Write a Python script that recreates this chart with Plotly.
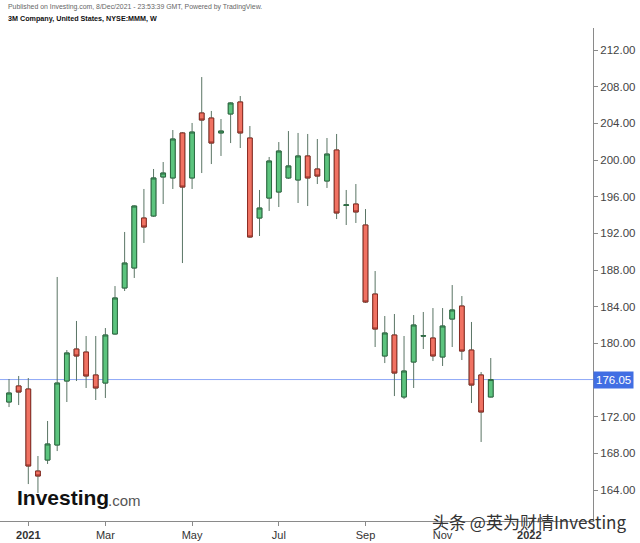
import plotly.graph_objects as go
import pandas as pd

# Weekly candles (Monday dates)
dates = pd.date_range("2020-12-21", periods=51, freq="7D").strftime("%Y-%m-%d").tolist()

opens = [173.60, 175.35, 175.02, 166.07, 167.27, 168.91, 175.89, 179.38, 179.05, 176.55,
         175.67, 181.02, 186.04, 188.22, 193.67, 193.89, 198.15, 198.04, 202.95, 198.04,
         205.13, 204.58, 202.95, 205.02, 206.33, 202.40, 193.67, 195.85, 196.51, 198.04,
         197.82, 200.44, 199.02, 197.71, 201.09, 195.05, 195.20, 192.91, 185.38, 178.62,
         180.91, 174.15, 177.96, 180.80, 180.58, 178.51, 182.65, 184.07, 179.27, 176.55,
         174.15]
highs = [176.11, 176.44, 176.22, 167.71, 171.53, 187.24, 179.27, 182.44, 180.80, 180.80,
         181.67, 186.25, 192.15, 195.05, 196.84, 199.02, 199.78, 203.27, 203.05, 204.04,
         209.05, 205.35, 204.47, 206.30, 206.98, 203.71, 196.73, 200.33, 201.96, 203.16,
         202.95, 202.84, 202.29, 202.40, 202.84, 196.73, 197.38, 194.65, 187.89, 182.98,
         183.20, 180.80, 183.09, 183.42, 183.85, 183.85, 186.36, 185.16, 182.33, 176.87,
         178.40]
lows = [173.05, 173.27, 164.65, 163.67, 166.84, 168.25, 173.60, 175.89, 175.13, 173.82,
        174.04, 180.95, 185.71, 187.13, 190.95, 193.80, 195.20, 196.84, 188.76, 196.84,
        198.58, 199.56, 200.44, 201.85, 201.31, 191.50, 191.71, 194.44, 194.87, 197.93,
        195.31, 194.98, 197.38, 196.95, 193.56, 192.91, 193.13, 184.40, 179.60, 177.85,
        174.25, 173.93, 175.13, 179.38, 178.07, 177.53, 179.60, 178.18, 173.49, 169.24,
        174.10]
closes = [174.58, 174.69, 166.62, 165.53, 169.02, 175.67, 178.95, 178.62, 176.44, 175.13,
          180.91, 184.95, 188.76, 194.98, 192.69, 198.04, 198.58, 202.29, 197.05, 203.05,
          204.36, 201.85, 203.16, 206.22, 202.95, 191.60, 194.76, 199.89, 200.98, 199.35,
          200.44, 198.04, 198.25, 200.65, 194.22, 195.10, 194.33, 184.51, 181.56, 181.13,
          176.76, 176.98, 182.00, 180.82, 178.62, 181.89, 183.64, 179.16, 175.45, 172.51,
          176.05]

tick_dates = ["2021-01-04", "2021-03-01", "2021-05-03", "2021-07-05", "2021-09-06",
              "2021-11-01", "2022-01-03"]
tick_text = ["<b>2021</b>", "Mar", "May", "Jul", "Sep", "Nov", "<b>2022</b>"]
price_ticks = [164, 168, 172, 180, 184, 188, 192, 196, 200, 204, 208, 212]

GREEN_FILL = "#5cc47e"
GREEN_LINE = "#2d6b42"
RED_FILL = "#f07262"
RED_LINE = "#8c2c24"
WICK = "#5a7565"

body_hi = [max(o, c) for o, c in zip(opens, closes)]
body_lo = [min(o, c) for o, c in zip(opens, closes)]

fig = go.Figure()
fig.add_trace(go.Candlestick(
    x=dates, open=opens, high=highs, low=lows, close=closes,
    increasing=dict(fillcolor=GREEN_FILL, line=dict(color=WICK, width=1)),
    decreasing=dict(fillcolor=RED_FILL, line=dict(color=WICK, width=1)),
    hoverinfo="skip", showlegend=False))
fig.add_trace(go.Candlestick(
    x=dates, open=opens, high=body_hi, low=body_lo, close=closes,
    increasing=dict(fillcolor=GREEN_FILL, line=dict(color=GREEN_LINE, width=1)),
    decreasing=dict(fillcolor=RED_FILL, line=dict(color=RED_LINE, width=1)),
    hoverinfo="skip", showlegend=False))

last = closes[-1]
fig.add_shape(type="line", xref="paper", x0=0, x1=1, yref="y", y0=last, y1=last,
              line=dict(color="#8ea8f7", width=1), layer="below")

fig.add_annotation(xref="paper", x=1, xanchor="left", xshift=0, yref="y", y=last,
                   text="176.05", showarrow=False, bgcolor="#416ee3",
                   font=dict(family="Liberation Sans, Arial", size=11.5, color="white"),
                   borderpad=2)

# header
fig.add_annotation(xref="paper", yref="paper", x=0, y=1.0426, xanchor="left", yanchor="middle",
                   xshift=6, showarrow=False,
                   text="Published on Investing.com, 8/Dec/2021 - 23:53:39 GMT, Powered by TradingView.",
                   font=dict(family="Liberation Sans, Arial", size=6.9, color="#666666"))
fig.add_annotation(xref="paper", yref="paper", x=0, y=1.0183, xanchor="left", yanchor="middle",
                   xshift=6, showarrow=False,
                   text="<b>3M Company, United States, NYSE:MMM, W</b>",
                   font=dict(family="Liberation Sans, Arial", size=7.2, color="#111111"))

# logo
fig.add_annotation(xref="paper", yref="paper", x=0, y=(521 - 497) / 493, xanchor="left", yanchor="middle",
                   xshift=15, showarrow=False,
                   text="<b>Investing</b>",
                   font=dict(family="Liberation Sans, Arial", size=21, color="#111111"))
fig.add_annotation(xref="paper", yref="paper", x=106 / 593, y=(521 - 500) / 493, xanchor="left", yanchor="middle",
                   showarrow=False,
                   text=".com",
                   font=dict(family="Liberation Sans, Arial", size=15, color="#555555"))

# watermark
fig.add_annotation(xref="paper", yref="paper", x=529 / 593, y=0, xanchor="center", yanchor="middle",
                   showarrow=False,
                   text="头条 @英为财情Investing",
                   font=dict(family="Noto Sans CJK SC", size=17, color="#333333"))

fig.update_layout(
    width=640, height=543,
    margin=dict(l=0, r=47, t=28, b=22),
    paper_bgcolor="white", plot_bgcolor="white",
    showlegend=False,
    boxgap=0.3,
    xaxis=dict(type="date", range=["2020-12-14 10:30", "2022-02-18 07:00"],
               rangeslider=dict(visible=False),
               showgrid=False, zeroline=False, showline=True, linecolor="#8a8a8a", linewidth=1,
               ticks="outside", ticklen=4, tickcolor="#8a8a8a",
               tickvals=tick_dates, ticktext=tick_text,
               tickfont=dict(family="Liberation Sans, Arial", size=11, color="#333333")),
    yaxis=dict(side="right", range=[160.62, 214.40], showgrid=False, zeroline=False,
               showline=True, linecolor="#8a8a8a", linewidth=1,
               ticks="outside", ticklen=4, tickcolor="#8a8a8a",
               tickvals=price_ticks, tickformat=".2f",
               tickfont=dict(family="Liberation Sans, Arial", size=11.5, color="#444444")),
)

fig.write_html("out.html")
